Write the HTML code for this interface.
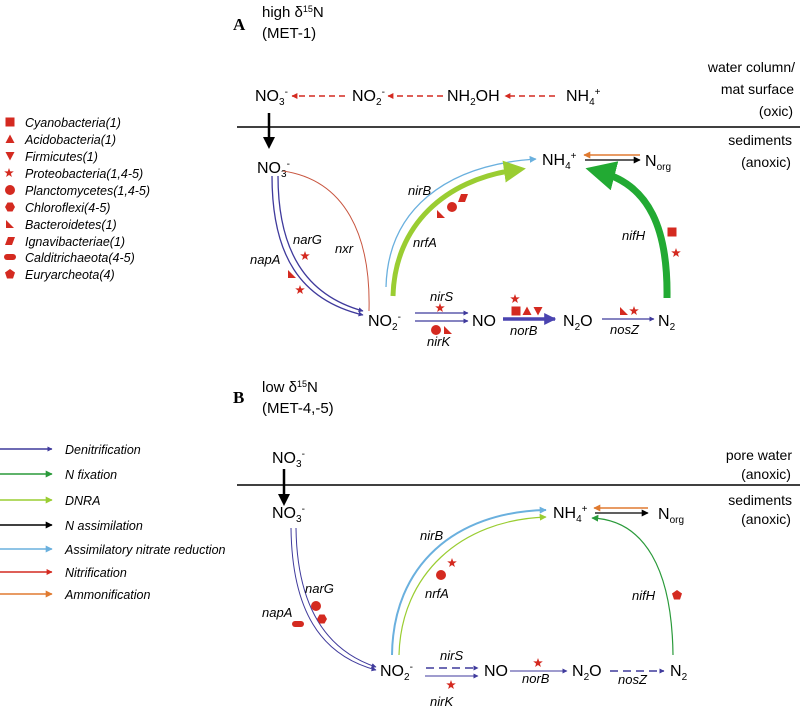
<!DOCTYPE html>
<html><head><meta charset="utf-8"><style>
html,body{margin:0;padding:0;background:#fff;}
svg{display:block;font-family:"Liberation Sans",sans-serif;}
.c{font-size:16px;fill:#000}
.s{font-size:10px}
.i{font-style:italic;font-size:13px}
.g{font-style:italic;font-size:12.5px}
.r{fill:#d42a20}
</style></head><body>
<svg width="800" height="707" viewBox="0 0 800 707">
<defs>
<marker id="ab" viewBox="0 0 10 10" refX="9" refY="5" markerWidth="5" markerHeight="5" orient="auto" markerUnits="userSpaceOnUse"><path d="M0,0L10,5L0,10z" fill="#3f3a9c"/></marker>
<marker id="ak" viewBox="0 0 10 10" refX="9" refY="5" markerWidth="7" markerHeight="7" orient="auto" markerUnits="userSpaceOnUse"><path d="M0,0L10,5L0,10z" fill="#000"/></marker>
<marker id="akb" viewBox="0 0 10 10" refX="5" refY="5" markerWidth="12" markerHeight="12" orient="auto" markerUnits="userSpaceOnUse"><path d="M0,0L10,5L0,10z" fill="#000"/></marker>
<marker id="ar" viewBox="0 0 10 10" refX="9" refY="5" markerWidth="6" markerHeight="6" orient="auto" markerUnits="userSpaceOnUse"><path d="M0,0L10,5L0,10z" fill="#d42a20"/></marker>
<marker id="ao" viewBox="0 0 10 10" refX="9" refY="5" markerWidth="7" markerHeight="7" orient="auto" markerUnits="userSpaceOnUse"><path d="M0,0L10,5L0,10z" fill="#e07a30"/></marker>
<marker id="al" viewBox="0 0 10 10" refX="9" refY="5" markerWidth="7" markerHeight="7" orient="auto" markerUnits="userSpaceOnUse"><path d="M0,0L10,5L0,10z" fill="#6ab0de"/></marker>
<marker id="ay" viewBox="0 0 10 10" refX="9" refY="5" markerWidth="7" markerHeight="7" orient="auto" markerUnits="userSpaceOnUse"><path d="M0,0L10,5L0,10z" fill="#9acd32"/></marker>
<marker id="ag" viewBox="0 0 10 10" refX="9" refY="5" markerWidth="7" markerHeight="7" orient="auto" markerUnits="userSpaceOnUse"><path d="M0,0L10,5L0,10z" fill="#2a9a3a"/></marker>
<marker id="ayb" viewBox="0 0 10 10" refX="5" refY="5" markerWidth="22" markerHeight="22" orient="auto" markerUnits="userSpaceOnUse"><path d="M0,0L10,5L0,10z" fill="#9acd32"/></marker>
<marker id="agb" viewBox="0 0 10 10" refX="5" refY="5" markerWidth="30" markerHeight="30" orient="auto" markerUnits="userSpaceOnUse"><path d="M0,0L10,5L0,10z" fill="#22aa33"/></marker>
<marker id="abb" viewBox="0 0 10 10" refX="9" refY="5" markerWidth="12" markerHeight="12" orient="auto" markerUnits="userSpaceOnUse"><path d="M0,0L10,5L0,10z" fill="#4a44b0"/></marker>
<polygon id="star" points="0,-5 1.2,-1.6 4.8,-1.6 1.9,0.6 2.9,4 0,2 -2.9,4 -1.9,0.6 -4.8,-1.6 -1.2,-1.6" fill="#d42a20"/>
<polygon id="rt" points="-4,-4 4,4 -4,4" fill="#d42a20"/>
<polygon id="tri" points="0,-4.5 4.5,4 -4.5,4" fill="#d42a20"/>
<polygon id="itri" points="-4.5,-4 4.5,-4 0,4.5" fill="#d42a20"/>
<rect id="sq" x="-4.5" y="-4.5" width="9" height="9" fill="#d42a20"/>
<circle id="cir" r="5" fill="#d42a20"/>
<polygon id="hex" points="-5,0 -2.5,-4.5 2.5,-4.5 5,0 2.5,4.5 -2.5,4.5" fill="#d42a20"/>
<polygon id="par" points="-2,-4 5,-4 2,4 -5,4" fill="#d42a20"/>
<rect id="cap" x="-6" y="-3" width="12" height="6" rx="3" fill="#d42a20"/>
<polygon id="pent" points="0,-5 5,-1.5 3,4.5 -3,4.5 -5,-1.5" fill="#d42a20"/>
</defs>

<text x="233" y="30" style="font-family:'Liberation Serif',serif;font-weight:bold;font-size:17px">A</text>
<text x="262" y="17" font-size="15">high δ<tspan font-size="9" dy="-5">15</tspan><tspan dy="5">N</tspan></text>
<text x="262" y="38" font-size="15">(MET-1)</text>

<text x="795" y="72" font-size="14" text-anchor="end">water column/</text>
<text x="794" y="94" font-size="14" text-anchor="end">mat surface</text>
<text x="776" y="116" font-size="14" text-anchor="middle">(oxic)</text>
<text x="792" y="145" font-size="14" text-anchor="end">sediments</text>
<text x="766" y="167" font-size="14" text-anchor="middle">(anoxic)</text>

<line x1="237" y1="127" x2="800" y2="127" stroke="#000" stroke-width="1.5"/>
<line x1="269" y1="113" x2="269" y2="143" stroke="#000" stroke-width="2.5" marker-end="url(#akb)"/>

<text class="c" x="255" y="101">NO<tspan class="s" dy="4">3</tspan><tspan class="s" dy="-10">-</tspan></text>
<text class="c" x="352" y="101">NO<tspan class="s" dy="4">2</tspan><tspan class="s" dy="-10">-</tspan></text>
<text class="c" x="447" y="101">NH<tspan class="s" dy="4">2</tspan><tspan dy="-4">OH</tspan></text>
<text class="c" x="566" y="101">NH<tspan class="s" dy="4">4</tspan><tspan class="s" dy="-10">+</tspan></text>
<g stroke="#d42a20" stroke-width="1.5" stroke-dasharray="6,4" marker-end="url(#ar)">
<line x1="345" y1="96" x2="292" y2="96"/>
<line x1="443" y1="96" x2="388" y2="96"/>
<line x1="555" y1="96" x2="505" y2="96"/>
</g>

<text class="c" x="257" y="173">NO<tspan class="s" dy="4">3</tspan><tspan class="s" dy="-10">-</tspan></text>
<text class="c" x="542" y="165">NH<tspan class="s" dy="4">4</tspan><tspan class="s" dy="-10">+</tspan></text>
<text class="c" x="645" y="166">N<tspan class="s" dy="4">org</tspan></text>
<text class="c" x="368" y="326">NO<tspan class="s" dy="4">2</tspan><tspan class="s" dy="-10">-</tspan></text>
<text class="c" x="472" y="326">NO</text>
<text class="c" x="563" y="326">N<tspan class="s" dy="4">2</tspan><tspan dy="-4">O</tspan></text>
<text class="c" x="658" y="326">N<tspan class="s" dy="4">2</tspan></text>

<g fill="none" stroke="#3f3a9c" stroke-width="1.3" marker-end="url(#ab)">
<path d="M272,176 C272,255 300,300 363,315"/>
<path d="M278,176 C278,250 305,295 363,311"/>
<line x1="415" y1="313" x2="468" y2="313"/>
<line x1="415" y1="321" x2="468" y2="321"/>
<line x1="602" y1="319" x2="654" y2="319"/>
</g>
<line x1="503" y1="319" x2="555" y2="319" stroke="#4a44b0" stroke-width="3.5" marker-end="url(#abb)"/>
<path d="M283,171 C345,180 371,235 369,311" fill="none" stroke="#c8553f" stroke-width="1"/>
<path d="M386,287 C388,210 445,165 536,159" fill="none" stroke="#6ab0de" stroke-width="1.3" marker-end="url(#al)"/>
<path d="M393,296 C395,225 445,180 515,170" fill="none" stroke="#9acd32" stroke-width="5" marker-end="url(#ayb)"/>
<path d="M667,298 C668,230 650,185 600,172" fill="none" stroke="#22aa33" stroke-width="7" marker-end="url(#agb)"/>
<line x1="640" y1="155" x2="584" y2="155" stroke="#e07a30" stroke-width="1.5" marker-end="url(#ao)"/>
<line x1="585" y1="160" x2="640" y2="160" stroke="#000" stroke-width="1.3" marker-end="url(#ak)"/>

<text class="i" x="408" y="195">nirB</text>
<text class="i" x="413" y="247">nrfA</text>
<text class="i" x="293" y="244">narG</text>
<text class="i" x="335" y="253">nxr</text>
<text class="i" x="250" y="264">napA</text>
<text class="i" x="622" y="240">nifH</text>
<text class="i" x="430" y="301">nirS</text>
<text class="i" x="427" y="346">nirK</text>
<text class="i" x="510" y="335">norB</text>
<text class="i" x="610" y="334">nosZ</text>

<use href="#rt" x="441" y="214"/><use href="#cir" x="452" y="207"/><use href="#par" x="463" y="198"/>
<use href="#sq" x="672" y="232"/><use href="#star" x="676" y="253"/>
<use href="#star" x="305" y="256"/><use href="#rt" x="292" y="274"/><use href="#star" x="300" y="290"/>
<use href="#star" x="440" y="308"/><use href="#cir" x="436" y="330"/><use href="#rt" x="448" y="330"/>
<use href="#star" x="515" y="299"/><use href="#sq" x="516" y="311"/><use href="#tri" x="527" y="311"/><use href="#itri" x="538" y="311"/>
<use href="#rt" x="624" y="311"/><use href="#star" x="634" y="311"/>

<g class="g">
<use href="#sq" x="10" y="122"/><text class="g" x="25" y="127">Cyanobacteria(1)</text>
<use href="#tri" x="10" y="139"/><text class="g" x="25" y="144">Acidobacteria(1)</text>
<use href="#itri" x="10" y="156"/><text class="g" x="25" y="161">Firmicutes(1)</text>
<use href="#star" x="9" y="173"/><text class="g" x="25" y="178">Proteobacteria(1,4-5)</text>
<use href="#cir" x="10" y="190"/><text class="g" x="25" y="195">Planctomycetes(1,4-5)</text>
<use href="#hex" x="10" y="207"/><text class="g" x="25" y="212">Chloroflexi(4-5)</text>
<use href="#rt" x="10" y="224"/><text class="g" x="25" y="229">Bacteroidetes(1)</text>
<use href="#par" x="10" y="241"/><text class="g" x="25" y="246">Ignavibacteriae(1)</text>
<use href="#cap" x="10" y="257"/><text class="g" x="25" y="262">Calditrichaeota(4-5)</text>
<use href="#pent" x="10" y="274"/><text class="g" x="25" y="279">Euryarcheota(4)</text>
</g>

<text x="233" y="403" style="font-family:'Liberation Serif',serif;font-weight:bold;font-size:17px">B</text>
<text x="262" y="392" font-size="15">low δ<tspan font-size="9" dy="-5">15</tspan><tspan dy="5">N</tspan></text>
<text x="262" y="413" font-size="15">(MET-4,-5)</text>
<text x="792" y="460" font-size="14" text-anchor="end">pore water</text>
<text x="766" y="479" font-size="14" text-anchor="middle">(anoxic)</text>
<text x="792" y="505" font-size="14" text-anchor="end">sediments</text>
<text x="766" y="524" font-size="14" text-anchor="middle">(anoxic)</text>
<line x1="237" y1="485" x2="800" y2="485" stroke="#000" stroke-width="1.5"/>
<line x1="284" y1="469" x2="284" y2="500" stroke="#000" stroke-width="2.5" marker-end="url(#akb)"/>

<g stroke-width="1.5">
<line x1="0" y1="449" x2="52" y2="449" stroke="#3f3a9c" marker-end="url(#ab)"/>
<line x1="0" y1="474" x2="52" y2="474" stroke="#2a9a3a" marker-end="url(#ag)"/>
<line x1="0" y1="500" x2="52" y2="500" stroke="#9acd32" marker-end="url(#ay)"/>
<line x1="0" y1="525" x2="52" y2="525" stroke="#000" marker-end="url(#ak)"/>
<line x1="0" y1="549" x2="52" y2="549" stroke="#6ab0de" marker-end="url(#al)"/>
<line x1="0" y1="572" x2="52" y2="572" stroke="#d42a20" marker-end="url(#ar)"/>
<line x1="0" y1="594" x2="52" y2="594" stroke="#e07a30" marker-end="url(#ao)"/>
</g>
<text class="g" x="65" y="454">Denitrification</text>
<text class="g" x="65" y="479">N fixation</text>
<text class="g" x="65" y="505">DNRA</text>
<text class="g" x="65" y="530">N assimilation</text>
<text class="g" x="65" y="554">Assimilatory nitrate reduction</text>
<text class="g" x="65" y="577">Nitrification</text>
<text class="g" x="65" y="599">Ammonification</text>

<text class="c" x="272" y="463">NO<tspan class="s" dy="4">3</tspan><tspan class="s" dy="-10">-</tspan></text>
<text class="c" x="272" y="518">NO<tspan class="s" dy="4">3</tspan><tspan class="s" dy="-10">-</tspan></text>
<text class="c" x="553" y="518">NH<tspan class="s" dy="4">4</tspan><tspan class="s" dy="-10">+</tspan></text>
<text class="c" x="658" y="519">N<tspan class="s" dy="4">org</tspan></text>
<text class="c" x="380" y="676">NO<tspan class="s" dy="4">2</tspan><tspan class="s" dy="-10">-</tspan></text>
<text class="c" x="484" y="676">NO</text>
<text class="c" x="572" y="676">N<tspan class="s" dy="4">2</tspan><tspan dy="-4">O</tspan></text>
<text class="c" x="670" y="676">N<tspan class="s" dy="4">2</tspan></text>

<g fill="none" stroke="#3f3a9c" stroke-width="1" marker-end="url(#ab)">
<path d="M291,528 C292,610 320,655 376,670"/>
<path d="M296,528 C297,605 325,650 376,667"/>
<line x1="425" y1="676" x2="478" y2="676"/>
<line x1="510" y1="671" x2="567" y2="671"/>
<line x1="426" y1="668" x2="478" y2="668" stroke-dasharray="8,5" stroke-width="1.5"/>
<line x1="610" y1="671" x2="664" y2="671" stroke-dasharray="8,5" stroke-width="1.5"/>
</g>
<path d="M392,655 C393,565 455,512 546,510" fill="none" stroke="#6ab0de" stroke-width="2" marker-end="url(#al)"/>
<path d="M399,655 C401,575 460,520 546,517" fill="none" stroke="#9acd32" stroke-width="1.2" marker-end="url(#ay)"/>
<path d="M673,655 C672,570 645,520 592,518" fill="none" stroke="#2a9a3a" stroke-width="1.2" marker-end="url(#ag)"/>
<line x1="648" y1="508" x2="594" y2="508" stroke="#e07a30" stroke-width="1.5" marker-end="url(#ao)"/>
<line x1="595" y1="513" x2="648" y2="513" stroke="#000" stroke-width="1.3" marker-end="url(#ak)"/>

<text class="i" x="420" y="540">nirB</text>
<text class="i" x="425" y="598">nrfA</text>
<text class="i" x="305" y="593">narG</text>
<text class="i" x="262" y="617">napA</text>
<text class="i" x="632" y="600">nifH</text>
<text class="i" x="440" y="660">nirS</text>
<text class="i" x="430" y="706">nirK</text>
<text class="i" x="522" y="683">norB</text>
<text class="i" x="618" y="684">nosZ</text>

<use href="#star" x="452" y="563"/><use href="#cir" x="441" y="575"/>
<use href="#cir" x="316" y="606"/><use href="#hex" x="322" y="619"/><use href="#cap" x="298" y="624"/>
<use href="#pent" x="677" y="595"/>
<use href="#star" x="538" y="663"/><use href="#star" x="451" y="685"/>
</svg>
</body></html>
